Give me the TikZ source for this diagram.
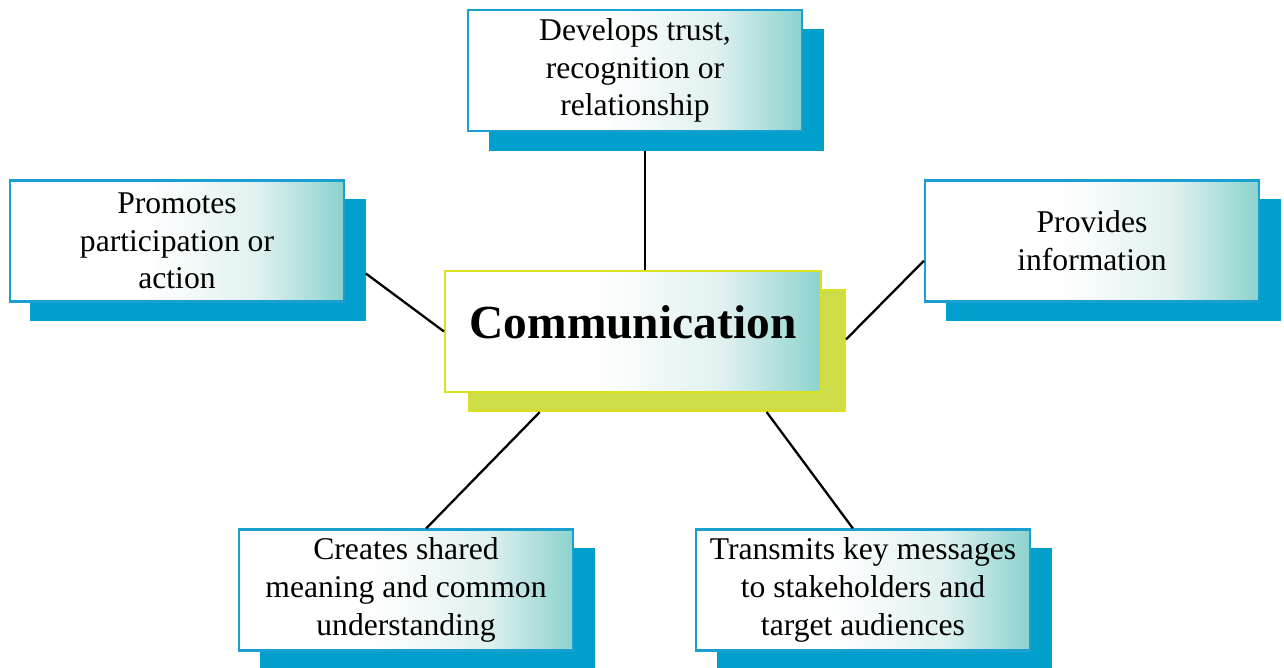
\documentclass[tikz,border=0pt]{standalone}
\usepackage{fontspec}
\setmainfont{Liberation Serif}
\usetikzlibrary{calc}

\definecolor{boxblue}{RGB}{0,159,204}
\definecolor{edgeblue}{RGB}{26,160,208}
\definecolor{fadeteal}{RGB}{140,210,205}
\definecolor{paleteal}{RGB}{224,241,240}
\definecolor{limegreen}{RGB}{204,221,72}
\definecolor{limeedge}{RGB}{221,224,32}

% white on the left half, running into teal at the right edge
\pgfdeclarehorizontalshading{whiteteal}{100bp}{color(0bp)=(white); color(45bp)=(white); color(62bp)=(paleteal); color(75bp)=(fadeteal); color(100bp)=(fadeteal)}

\tikzset{
  ideabox/.style={draw=edgeblue, line width=1.2pt, shade, shading=whiteteal,
    minimum width=6.68cm, minimum height=2.42cm, inner sep=0pt, align=center,
    font=\fontsize{18}{21.5}\selectfont},
  ideashadow/.style={fill=boxblue, minimum width=6.7cm, minimum height=2.44cm, inner sep=0pt},
  hubbox/.style={ideabox, draw=limeedge, minimum width=7.52cm, text depth=0.37cm,
    font=\fontsize{27}{30}\selectfont\bfseries},
  hubshadow/.style={fill=limegreen, draw=limeedge, line width=1.2pt, inner sep=0pt,
    minimum width=7.52cm, minimum height=2.42cm},
  link/.style={line width=1.3pt}
}

\begin{document}
\begin{tikzpicture}
    % Page size
    \useasboundingbox (0,0) rectangle (25.68,-13.36);

    % Offset of the blue shadow boxes
    \def\dx{0.42}
    \def\dy{-0.38}

    % Shadows first
    \node[ideashadow] (tops) at (12.70+\dx,-1.41+\dy) {};
    \node[ideashadow] (lefts) at (3.54+\dx,-4.82+\dy) {};
    \node[ideashadow] (rights) at (21.84+\dx,-4.82+\dy) {};
    \node[ideashadow] (blefts) at (8.12+\dx,-11.80+\dy) {};
    \node[ideashadow] (brights) at (17.26+\dx,-11.80+\dy) {};
    \node[hubshadow] (hubs) at (12.66+0.48,-6.63-0.38) {};

    % Boxes
    \node[ideabox] (top) at (12.70,-1.41) {Develops trust,\\ recognition or\\ relationship};
    \node[ideabox] (left) at (3.54,-4.82) {Promotes\\ participation or\\ action};
    \node[ideabox] (right) at (21.84,-4.82) {Provides\\ information};
    \node[ideabox] (bleft) at (8.12,-11.80) {Creates shared\\ meaning and common\\ understanding};
    \node[ideabox] (bright) at (17.26,-11.80) {Transmits key messages\\ to stakeholders and\\ target audiences};
    \node[hubbox] (hub) at (12.66,-6.63) {Communication};

    % Connectors
    \coordinate (topfoot) at ($(tops.south west)!0.467!(tops.south east)$);
    \draw[link] (topfoot) -- (topfoot |- hub.north);
    \draw[link] ($(lefts.north east)!0.61!(lefts.south east)$) -- (hub.west);
    \draw[link] ($(right.north west)!0.66!(right.south west)$) -- ($(hubs.north east)!0.41!(hubs.south east)$);
    \draw[link] ($(bleft.north west)!0.56!(bleft.north east)$) -- ($(hubs.south west)!0.19!(hubs.south east)$);
    \draw[link] ($(bright.north west)!0.47!(bright.north east)$) -- ($(hubs.south west)!0.79!(hubs.south east)$);
\end{tikzpicture}
\end{document}
